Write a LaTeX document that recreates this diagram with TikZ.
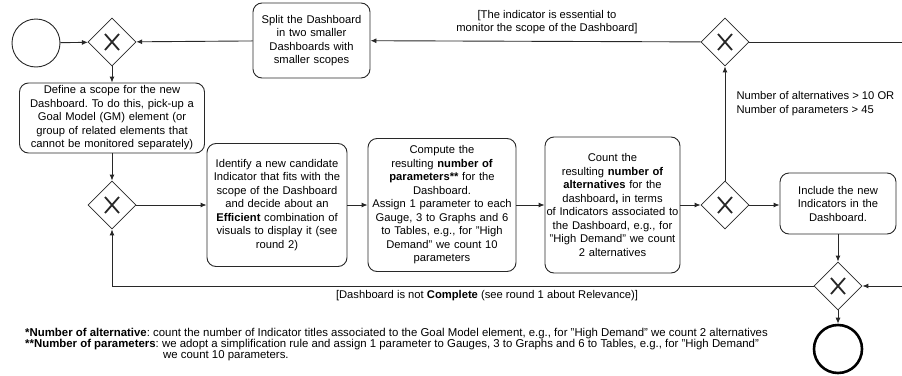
\documentclass[tikz,border=0pt]{standalone}
\usepackage{fontspec}
\setmainfont{Liberation Sans}
\frenchspacing
\usetikzlibrary{shapes,arrows.meta,positioning,calc}
\definecolor{flowline}{RGB}{40,40,40}
\newcommand{\taskfont}{\fontsize{11.2}{13.5}\selectfont}
\newcommand{\notefont}{\fontsize{11.4}{10.8}\selectfont}
\tikzset{
  task/.style={draw=flowline, rounded corners=9pt, align=center, font=\taskfont, inner sep=1pt, line width=0.9pt},
  gate/.style={draw=flowline, diamond, minimum width=48pt, minimum height=48pt, inner sep=0pt, line width=0.8pt,
    path picture={\draw[line width=1.8pt] ([shift={(-7pt,-8pt)}]path picture bounding box.center) -- ([shift={(7pt,8pt)}]path picture bounding box.center)
      ([shift={(-7pt,8pt)}]path picture bounding box.center) -- ([shift={(7pt,-8pt)}]path picture bounding box.center);}},
  flow/.style={-{Latex[length=6pt,width=5pt]}, draw=flowline, line width=0.9pt},
  guard/.style={font=\taskfont, align=center}
}

\begin{document}
\begin{tikzpicture}[x=1pt, y=-1pt]
  \useasboundingbox (0,0) rectangle (902,375);
  \node[draw=flowline, circle, line width=0.9pt, minimum size=48pt] (start) at (36,43) {};
  \node[gate] (splitgate) at (112,42) {};
  \node[task, minimum width=185pt, minimum height=70pt, text width=183pt] (scope) at (112,118)
    {Define a scope for the new\\Dashboard. To do this, pick-up a\\Goal Model (GM) element (or\\group of related elements that\\cannot be monitored separately)};
  \node[task, minimum width=117pt, minimum height=75pt, text width=115pt] (split) at (311.5,40.5)
    {Split the Dashboard\\in two smaller\\Dashboards with\\smaller scopes};
  \node[gate] (loopgate) at (112,205) {};
  \node[task, minimum width=140pt, minimum height=123pt, text width=138pt] (identify) at (277,205)
    {Identify a new candidate\\Indicator that fits with the\\scope of the Dashboard\\and decide about an\\\textbf{Efficient} combination of\\visuals to display it (see\\round 2)};
  \node[task, minimum width=148pt, minimum height=133pt, text width=146pt] (params) at (442,205)
    {Compute the\\resulting \textbf{number of}\\\textbf{parameters**} for the\\Dashboard.\\Assign 1 parameter to each\\Gauge, 3 to Graphs and 6\\to Tables, e.g., for "High\\Demand" we count 10\\parameters};
  \node[task, minimum width=135pt, minimum height=136pt, text width=133pt] (alts) at (612.5,205)
    {Count the\\resulting \textbf{number of}\\\textbf{alternatives} for the\\dashboard\textbf{,} in terms\\of Indicators associated to\\the Dashboard, e.g., for\\"High Demand" we count\\2 alternatives};
  \node[gate] (sizegate) at (725,205) {};
  \node[gate] (essgate) at (725,42) {};
  \node[task, minimum width=116pt, minimum height=61pt, text width=114pt] (include) at (838,203.5)
    {Include the new\\Indicators in the\\Dashboard.};
  \node[gate] (donegate) at (838,286) {};
  \node[draw=black, circle, line width=2.6pt, minimum size=48pt] (finish) at (838,349) {};
  \coordinate (toprim) at (902,42);
  \coordinate (botrim) at (902,286);

  \draw[flow] (start) -- (splitgate);
  \draw[flow] (splitgate) -- (scope);
  \draw[flow] (scope) -- (loopgate);
  \draw[flow] (loopgate) -- (identify);
  \draw[flow] (identify) -- (params);
  \draw[flow] (params) -- (alts);
  \draw[flow] (alts) -- (sizegate);
  \draw[flow] (sizegate) -- (sizegate -| include.west);
  \draw[flow] (sizegate) -- (essgate);
  \draw[flow] (essgate) -- (split);
  \draw[flow] (split) -- (splitgate);
  \draw[draw=flowline, line width=0.9pt] (essgate) -- (toprim);
  \draw[flow] (include) -- (donegate);
  \draw[flow] (botrim) -- (donegate);
  \draw[flow] (donegate) -- (finish);
  \draw[flow] (donegate) -- (loopgate |- donegate) -- (loopgate);

  \node[guard] (esslabel) at (547,22) {[The indicator is essential to\\monitor the scope of the Dashboard]};
  \node[font=\taskfont, align=left, anchor=west] (sizelabel) at (733,103.5) {Number of alternatives > 10 OR\\Number of parameters > 45};
  \node[guard] (donelabel) at (487,296) {[Dashboard is not \textbf{Complete} (see round 1 about Relevance)]};
  \node[font=\notefont, align=left, anchor=north west, inner sep=0pt] (notes) at (25,328)
    {\textbf{*Number of alternative}: count the number of Indicator titles associated to the Goal Model element, e.g., for "High Demand" we count 2 alternatives\\
     \textbf{**Number of parameters}: we adopt a simplification rule and assign 1 parameter to Gauges, 3 to Graphs and 6 to Tables, e.g., for "High Demand"\\
     \hspace*{138pt}we count 10 parameters.};
\end{tikzpicture}
\end{document}
